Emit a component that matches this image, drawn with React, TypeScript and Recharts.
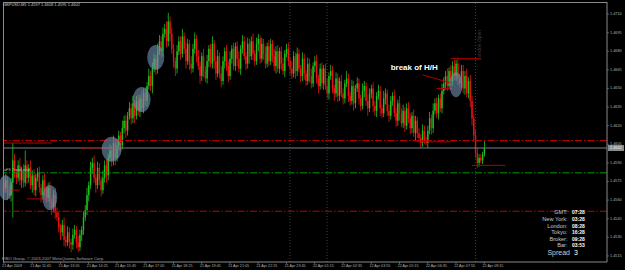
import React from 'react';
import { ComposedChart, Bar, XAxis, YAxis, ReferenceLine, ReferenceDot } from 'recharts';

// ---- data (pips above 1.4500) ----
const BASE = 1.45;
const FIRST_OPEN = 74;
const CLOSES = [
  70, 76, 66, 64, 74, 92, 82, 78, 88, 76,
  84, 74, 88, 78, 86, 72, 80, 68, 78, 82,
  70, 64, 76, 68, 62, 70, 58, 54, 64, 50,
  46, 38, 34, 40, 28, 26, 34, 26, 24, 32,
  36, 26, 22, 32, 36, 46, 52, 64, 72, 86,
  90, 78, 72, 86, 76, 68, 78, 88, 80, 94,
  100, 92, 106, 94, 104, 112, 104, 118, 124, 116,
  128, 134, 126, 138, 128, 140, 132, 142, 134, 146,
  140, 152, 160, 152, 166, 174, 166, 180, 188, 180,
  194, 198, 188, 204, 194, 182, 172, 166, 180, 188,
  178, 192, 182, 172, 186, 170, 166, 182, 190, 176,
  168, 160, 176, 164, 158, 172, 182, 170, 186, 172,
  162, 176, 162, 156, 172, 180, 168, 160, 174, 182,
  168, 184, 174, 166, 182, 188, 176, 170, 186, 176,
  188, 178, 172, 186, 190, 174, 186, 178, 170, 184,
  172, 186, 176, 168, 180, 166, 180, 170, 164, 178,
  182, 172, 166, 162, 176, 164, 178, 166, 160, 174,
  162, 156, 170, 160, 154, 168, 172, 158, 152, 166,
  154, 166, 152, 146, 160, 164, 150, 146, 158, 144,
  156, 146, 142, 154, 158, 144, 140, 152, 138, 150,
  154, 142, 136, 148, 152, 140, 134, 146, 150, 136,
  132, 144, 148, 134, 130, 142, 146, 132, 128, 140,
  144, 130, 124, 138, 130, 122, 132, 120, 134, 126,
  118, 128, 114, 124, 114, 110, 106, 116, 108, 106,
  116, 126, 118, 132, 138, 130, 142, 134, 148, 154,
  160, 152, 164, 156, 168, 160, 170, 158, 154, 164,
  150, 160, 146, 156, 140, 126, 112, 98, 90, 94,
  92, 97, 102,
];
const WICK_UP = [
  4, 5, 3, 6, 4, 14, 5, 3, 4, 6,
  3, 5, 12, 4, 3, 6, 4, 5, 3, 4,
  5, 3, 4, 6, 3, 4, 5, 3, 4, 6,
  4, 5, 3, 4, 6, 3, 5, 4, 3, 5,
  4, 3, 5, 4, 3, 5, 4, 6, 3, 5,
  4, 6, 3, 5, 4, 3, 6, 4, 5, 3,
  5, 4, 6, 3, 5, 4, 3, 6, 4, 5,
  3, 5, 4, 6, 3, 4, 5, 3, 6, 4,
  5, 3, 6, 4, 5, 4, 3, 6, 5, 4,
  5, 4, 6, 7, 4, 5, 4, 3, 5, 4,
  4, 6, 3, 5, 4, 3, 6, 4, 5, 3,
  5, 4, 3, 6, 4, 5, 3, 4, 6, 3,
  4, 5, 3, 6, 4, 3, 5, 4, 6, 3,
  5, 3, 4, 6, 3, 5, 4, 3, 5, 4,
  4, 6, 3, 5, 4, 3, 5, 4, 6, 3,
  5, 4, 3, 6, 4, 5, 3, 4, 5, 3,
  4, 5, 3, 6, 4, 3, 5, 4, 3, 5,
  4, 3, 5, 4, 6, 3, 4, 5, 3, 4,
  5, 3, 4, 6, 3, 5, 4, 3, 5, 4,
  3, 5, 4, 3, 6, 4, 3, 5, 4, 3,
  5, 4, 3, 6, 4, 3, 5, 4, 3, 5,
  4, 3, 5, 4, 3, 6, 4, 3, 5, 4,
  3, 5, 4, 3, 6, 4, 5, 3, 4, 5,
  4, 3, 5, 4, 3, 4, 3, 5, 4, 3,
  4, 5, 3, 6, 4, 5, 3, 4, 6, 5,
  4, 6, 3, 5, 4, 5, 3, 5, 4, 5,
  5, 4, 6, 3, 5, 4, 3, 5, 4, 3,
  3, 2, 6,
];
const WICK_DN = [
  5, 4, 6, 3, 5, 28, 4, 5, 3, 4,
  6, 4, 3, 5, 4, 3, 6, 4, 5, 3,
  4, 6, 3, 5, 4, 3, 5, 6, 4, 5,
  3, 4, 6, 3, 5, 4, 3, 5, 6, 4,
  3, 5, 4, 3, 5, 4, 3, 4, 5, 3,
  5, 4, 6, 3, 4, 5, 3, 4, 6, 4,
  3, 5, 4, 6, 3, 4, 5, 3, 4, 6,
  4, 3, 5, 4, 6, 3, 4, 5, 3, 4,
  4, 5, 3, 4, 6, 3, 5, 4, 3, 5,
  4, 3, 5, 4, 6, 4, 5, 6, 4, 3,
  5, 3, 4, 6, 3, 5, 4, 3, 4, 5,
  3, 6, 4, 5, 3, 4, 5, 3, 4, 6,
  5, 3, 4, 5, 3, 6, 4, 5, 3, 4,
  3, 4, 6, 3, 5, 4, 3, 5, 4, 6,
  3, 5, 4, 3, 6, 4, 3, 5, 4, 3,
  4, 3, 5, 4, 6, 3, 4, 5, 3, 5,
  3, 4, 5, 4, 3, 6, 4, 3, 5, 4,
  5, 4, 3, 5, 4, 3, 5, 4, 6, 3,
  4, 5, 3, 4, 5, 3, 4, 6, 3, 5,
  4, 3, 5, 4, 3, 5, 4, 3, 6, 4,
  3, 5, 4, 3, 5, 4, 6, 3, 4, 5,
  4, 5, 3, 6, 4, 3, 5, 4, 5, 3,
  4, 3, 5, 4, 6, 3, 4, 5, 3, 4,
  5, 4, 3, 6, 4, 3, 4, 3, 3, 2,
  4, 3, 5, 4, 3, 4, 5, 3, 4, 3,
  5, 4, 3, 5, 4, 3, 4, 5, 3, 4,
  4, 5, 3, 4, 5, 6, 5, 4, 4, 3,
  2, 3, 2,
];
const TIME_LABELS = [
  '21 Apr 2009', '21 Apr 11:45', '21 Apr 13:05', '21 Apr 14:25', '21 Apr 15:45',
  '21 Apr 17:05', '21 Apr 18:25', '21 Apr 19:45', '21 Apr 21:05', '21 Apr 22:25',
  '21 Apr 23:45', '22 Apr 01:15', '22 Apr 02:35', '22 Apr 03:55', '22 Apr 05:15',
  '22 Apr 06:35', '22 Apr 07:55', '22 Apr 09:15',
];
const PRICE_TICKS = [
  1.4515, 1.453, 1.4545, 1.456, 1.4575, 1.459, 1.4605, 1.462,
  1.4635, 1.465, 1.4665, 1.468, 1.4695, 1.471,
];
const BID = 1.4602;
const RED_LEVELS = [1.4608, 1.4551];
const GREEN_LEVELS = [1.4582];
const SESSION_LINES = [162, 183, 267];
// [fromBar, fromPrice, toBar, toPrice]
const SEGMENTS = [
  [0, 1.4606, 27, 1.4606],
  [44, 1.4602, 66, 1.4602],
  [0, 1.4568, 9, 1.4568],
  [13, 1.4561, 29, 1.4561],
  [234, 1.4607, 253, 1.4607],
  [245, 1.465, 254, 1.465],
  [253, 1.4674, 270, 1.4674],
  [265, 1.4588, 284, 1.4588],
  [237, 1.4661, 254, 1.4654],
];
const ELLIPSES = [
  [1, 1.457], [26, 1.4562], [61, 1.4601], [78, 1.4641], [86, 1.4675], [256, 1.4653],
];
const ELLIPSE_RX = [7, 7.5, 10, 9, 8.5, 6.5];
const INFO_LABELS = ['GMT:', 'New York:', 'London:', 'Tokyo:', 'Broker:', 'Bar:'];
const INFO_VALUES = ['07:28', '03:28', '08:28', '16:28', '09:28', '03:53'];
const SPREAD = '3';

const SLOTS = 342;
const data = Array.from({ length: SLOTS }, (_, i) => {
  if (i >= CLOSES.length) return { i };
  const o = i === 0 ? FIRST_OPEN : CLOSES[i - 1];
  const c = CLOSES[i];
  const h = Math.max(o, c) + WICK_UP[i];
  const l = Math.min(o, c) - WICK_DN[i];
  return { i, o: BASE + o / 1e4, c: BASE + c / 1e4, h: BASE + h / 1e4, l: BASE + l / 1e4 };
});

const UP = '#1ec21e';
const DOWN = '#f01212';
const RED = '#c00000';
const FONT = 'Liberation Sans, Arial, sans-serif';

const Candle = (props: any) => {
  const { x, y, width, height, payload } = props;
  if (!payload || payload.o == null) return null;
  const { o, h, l, c } = payload;
  const top = Math.min(y, y + height);
  const bot = Math.max(y, y + height);
  const span = h - l;
  const k = span > 0 ? (bot - top) / span : 0;
  const py = (p: number) => top + (h - p) * k;
  const cx = x + width / 2;
  const col = c >= o ? UP : DOWN;
  const bTop = py(Math.max(o, c));
  const bBot = py(Math.min(o, c));
  return (
    <g>
      <rect x={cx - 0.4} y={top} width={0.8} height={Math.max(0.5, bot - top)} fill={col} />
      <rect x={cx - 0.7} y={bTop} width={1.4} height={Math.max(0.8, bBot - bTop)} fill={col} />
    </g>
  );
};

const TimeTick = (props: any) => {
  const { x, payload } = props;
  const idx = payload.value / 16;
  const label = Number.isInteger(idx) ? TIME_LABELS[idx] : undefined;
  if (!label) return null;
  return (
    <g>
      <line x1={x} x2={x} y1={262} y2={264} stroke="#8a8a8a" strokeWidth={0.6} />
      <text x={x - 1.8} y={266.3} fontSize={3.7} fill="#b4b4b4" fontFamily={FONT} dominantBaseline="central">
        {label}
      </text>
    </g>
  );
};

const PriceTick = (props: any) => {
  const { y, payload } = props;
  const v = payload.value;
  if (v === BID) {
    return (
      <g>
        <rect x={608} y={y - 3} width={16} height={6} fill="#8c8c8c" />
        <text x={610} y={y} fontSize={3.8} fill="#f2f2f2" fontFamily={FONT} dominantBaseline="central">
          {v.toFixed(4)}
        </text>
      </g>
    );
  }
  return (
    <g>
      <line x1={607} x2={609} y1={y} y2={y} stroke="#8a8a8a" strokeWidth={0.6} />
      <text x={610} y={y} fontSize={3.8} fill="#b4b4b4" fontFamily={FONT} dominantBaseline="central">
        {v.toFixed(4)}
      </text>
    </g>
  );
};

export default function App() {
  const rangeKey = (d: any) => (d.o == null ? undefined : [d.l, d.h]);
  return (
    <div style={{ position: 'absolute', left: 0, top: 0, width: 625, height: 270, background: '#000', overflow: 'hidden' }}>
      <ComposedChart
        width={625}
        height={270}
        data={data}
        margin={{ top: 2, right: 0, bottom: 0, left: 3 }}
        barCategoryGap={0}
        barGap={0}
      >
        <XAxis
          dataKey="i"
          type="category"
          interval={15}
          height={8}
          tickLine={false}
          axisLine={{ stroke: '#8a8a8a' }}
          tick={<TimeTick />}
        />
        <YAxis
          orientation="right"
          type="number"
          width={18}
          domain={[1.45101, 1.47197]}
          allowDataOverflow
          ticks={[...PRICE_TICKS, BID]}
          interval={0}
          tickLine={false}
          axisLine={{ stroke: '#8a8a8a' }}
          tick={<PriceTick />}
        />
        {SESSION_LINES.map((b) => (
          <ReferenceLine key={'s' + b} x={b} stroke="#48505a" strokeDasharray="1 2" strokeWidth={0.8} />
        ))}
        <ReferenceLine y={BID} stroke="#76828e" strokeWidth={1} />
        {RED_LEVELS.map((p) => (
          <ReferenceLine key={'r' + p} y={p} stroke={RED} strokeWidth={1} strokeDasharray="7 2 1.5 2" />
        ))}
        {GREEN_LEVELS.map((p) => (
          <ReferenceLine key={'g' + p} y={p} stroke="#009a00" strokeWidth={1} strokeDasharray="7 2 1.5 2" />
        ))}
        <Bar dataKey={rangeKey} shape={<Candle />} isAnimationActive={false} />
        {SEGMENTS.map((s, k) => (
          <ReferenceLine
            key={'seg' + k}
            segment={[{ x: s[0], y: s[1] }, { x: s[2], y: s[3] }]}
            stroke="#b40000"
            strokeWidth={1}
          />
        ))}
        {ELLIPSES.map((e, k) => (
          <ReferenceDot
            key={'el' + k}
            x={e[0]}
            y={e[1]}
            r={1}
            shape={(p: any) => (
              <ellipse cx={p.cx} cy={p.cy} rx={ELLIPSE_RX[k]} ry={12.5} fill="#6f8fae" fillOpacity={0.62} />
            )}
          />
        ))}
        <ReferenceDot
          x={219}
          y={1.4667}
          r={1}
          shape={(p: any) => (
            <text x={p.cx} y={p.cy} fontSize={8} fontWeight="bold" fill="#ffffff" fontFamily={FONT} dominantBaseline="central">
              break of H/H
            </text>
          )}
        />
        <ReferenceDot
          x={269}
          y={1.4685}
          r={1}
          shape={(p: any) => (
            <text
              x={p.cx}
              y={p.cy}
              fontSize={5}
              fill="#3c3c3c"
              fontFamily={FONT}
              textAnchor="middle"
              dominantBaseline="central"
              transform={`rotate(-90 ${p.cx} ${p.cy})`}
            >
              London Open
            </text>
          )}
        />
        <ReferenceDot
          x={0}
          y={1.4584}
          r={1}
          shape={(p: any) => (
            <text x={p.cx} y={p.cy} fontSize={3.8} fill="#b8b8b8" fontFamily={FONT} dominantBaseline="central">
              aFS Trend stop
            </text>
          )}
        />
      </ComposedChart>
      <svg width={625} height={270} style={{ position: 'absolute', left: 0, top: 0, pointerEvents: 'none' }}>
        <line x1={3} x2={607} y1={2.5} y2={2.5} stroke="#8a8a8a" strokeWidth={1} />
        <line x1={3.5} x2={3.5} y1={2} y2={262} stroke="#8a8a8a" strokeWidth={1} />
        <text x={3} y={4.8} fontSize={4} fill="#c8c8c8" fontFamily={FONT} dominantBaseline="central">
          GBPUSD,M5  1.4597 1.4608 1.4595 1.4602
        </text>
        <text x={2} y={258.8} fontSize={4.2} fill="#a0a0a0" fontFamily={FONT} dominantBaseline="central">
          FIBO Group, © 2003-2007 MetaQuotes Software Corp.
        </text>
        {INFO_LABELS.map((t, k) => (
          <text
            key={'il' + k}
            x={567.5}
            y={212.3 + k * 6.6}
            fontSize={5.6}
            fill="#c8c8c8"
            fontFamily={FONT}
            textAnchor="end"
            dominantBaseline="central"
          >
            {t}
          </text>
        ))}
        {INFO_VALUES.map((t, k) => (
          <text
            key={'iv' + k}
            x={572}
            y={212.3 + k * 6.6}
            fontSize={5}
            fontWeight="bold"
            fill="#ffffff"
            fontFamily={FONT}
            dominantBaseline="central"
          >
            {t}
          </text>
        ))}
        <text x={570} y={252.5} fontSize={7} fill="#c8c8c8" fontFamily={FONT} textAnchor="end" dominantBaseline="central">
          Spread
        </text>
        <text x={574} y={252.5} fontSize={7} fill="#ffffff" fontFamily={FONT} dominantBaseline="central">
          {SPREAD}
        </text>
      </svg>
    </div>
  );
}
